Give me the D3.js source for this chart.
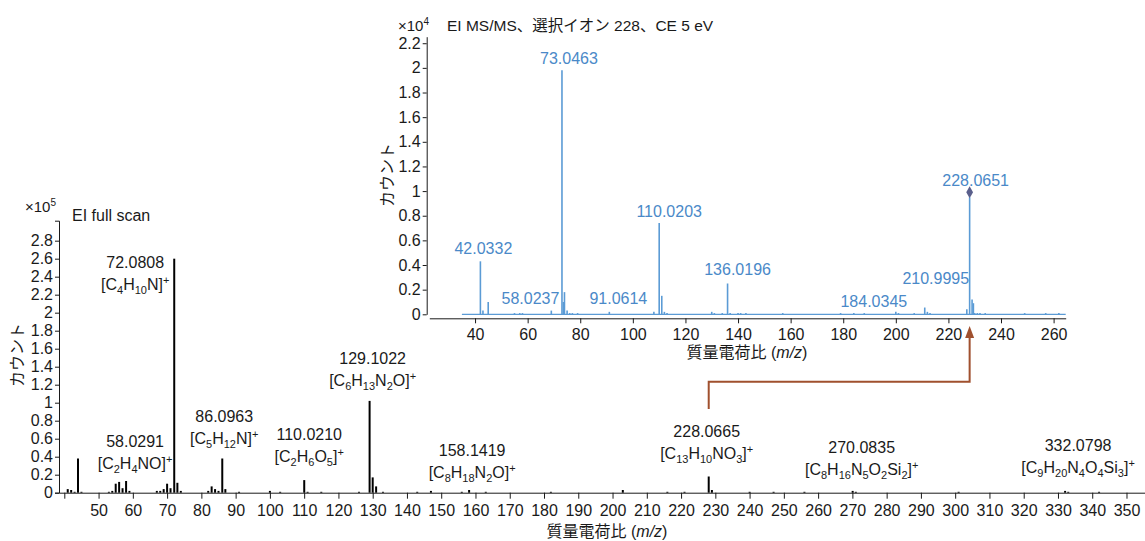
<!DOCTYPE html>
<html>
<head>
<meta charset="utf-8">
<script src="https://cdn.jsdelivr.net/npm/d3@7"></script>
<style>
  body { margin: 0; background: #fff; }
  svg text { font-family: "Liberation Sans", "Noto Sans CJK JP", sans-serif; fill: #1a1a1a; }
</style>
</head>
<body>
<div id="chart"></div>
<script>
// EI full scan (x10^5 counts)
const mainMz  = [41, 42, 43, 44, 45, 53, 54, 55, 56, 57, 58.03, 59, 67, 68, 69, 70, 71, 72.08, 73, 74,
                 82, 83, 84, 85, 86.1, 87, 91, 100, 103, 110.02, 111, 115, 126, 129.1, 130, 131, 133,
                 143, 147, 156, 158.14, 163, 182, 203, 216, 221, 228.07, 229, 240, 247, 256, 270.08, 271,
                 301, 332.08, 333, 342];
const mainInt = [0.04, 0.03, 0.01, 0.38, 0.01, 0.01, 0.02, 0.10, 0.12, 0.05, 0.13, 0.02, 0.02, 0.02, 0.04, 0.10, 0.05, 2.60, 0.11, 0.02,
                 0.02, 0.07, 0.04, 0.02, 0.38, 0.04, 0.01, 0.02, 0.01, 0.14, 0.01, 0.01, 0.01, 1.02, 0.17, 0.07, 0.01,
                 0.01, 0.02, 0.01, 0.03, 0.01, 0.01, 0.03, 0.01, 0.01, 0.18, 0.03, 0.01, 0.01, 0.01, 0.02, 0.01,
                 0.01, 0.02, 0.01, 0.01];
const mainLabelMz   = [72.0808, 58.0291, 86.0963, 110.0210, 129.1022, 158.1419, 228.0665, 270.0835, 332.0798];
const mainLabelText = ["72.0808", "58.0291", "86.0963", "110.0210", "129.1022", "158.1419", "228.0665", "270.0835", "332.0798"];
const mainFormula   = ["[C_4H_10N]^+", "[C_2H_4NO]^+", "[C_5H_12N]^+", "[C_2H_6O_5]^+", "[C_6H_13N_2O]^+",
                       "[C_8H_18N_2O]^+", "[C_13H_10NO_3]^+", "[C_8H_16N_5O_2Si_2]^+", "[C_9H_20N_4O_4Si_3]^+"];
const mainXTicks = d3.range(40, 351, 10);
const mainYTicks = d3.range(0, 2.81, 0.2);

// EI MS/MS, precursor 228 (x10^4 counts)
const insMz  = [42.03, 43, 45, 55, 57, 58.02, 69, 73.05, 73.6, 74, 75, 76, 77, 79, 91.06, 108, 110.02, 111, 112, 113,
                130, 131, 134, 136.02, 137, 140, 141, 143, 157, 179, 184.03, 188, 200, 201, 207, 211, 212, 213,
                227, 228.07, 229, 229.5, 230, 231, 232, 234, 249, 257, 262];
const insInt = [0.43, 0.03, 0.10, 0.01, 0.01, 0.01, 0.03, 1.98, 0.10, 0.18, 0.03, 0.01, 0.01, 0.01, 0.02, 0.02, 0.74, 0.15, 0.02, 0.01,
                0.02, 0.01, 0.01, 0.25, 0.01, 0.01, 0.01, 0.01, 0.01, 0.01, 0.01, 0.01, 0.02, 0.01, 0.01, 0.055, 0.02, 0.01,
                0.04, 0.95, 0.12, 0.09, 0.01, 0.01, 0.01, 0.01, 0.01, 0.01, 0.01];
const insLabelMz   = [73.0463, 42.0332, 58.0237, 91.0614, 110.0203, 136.0196, 184.0345, 210.9995, 228.0651];
const insLabelText = ["73.0463", "42.0332", "58.0237", "91.0614", "110.0203", "136.0196", "184.0345", "210.9995", "228.0651"];
const insXTicks = d3.range(40, 261, 20);
const insYTicks = d3.range(0, 2.21, 0.2);
const precursorMz = 228.07;

// annotation placement (pixels): horizontal nudge from peak, vertical centre of first line
const mainLabelPos = [[-39, 262], [9, 441], [2, 416], [5, 434], [3, 358], [3, 450], [-2, 431], [9, 447], [13, 445]];
const insLabelPos  = [[7, 58], [3, 248], [8, 298], [9, 298], [10, 211], [10, 269], [20, 301], [11, 278], [6, 180]];

const W = 1145, H = 541;
const FS = "16px";
const svg = d3.select("#chart").append("svg").attr("width", W).attr("height", H);

const fmt = d => String(+d.toFixed(1));

function richText(sel, str) {
  const parts = str.match(/_\d+|\^\+|[^_^]+/g);
  let shift = 0;
  parts.forEach(p => {
    let t = p, target = 0, size = null;
    if (p[0] === "_") { t = p.slice(1); target = 4; size = "11px"; }
    else if (p[0] === "^") { t = p.slice(1); target = -6; size = "11px"; }
    sel.append("tspan").attr("dy", target - shift).attr("font-size", size).text(t);
    shift = target;
  });
}

// ---------------- main chart ----------------
const xMain = d3.scaleLinear().domain([38.45, 355.4]).range([59, 1145]);
const yMain = d3.scaleLinear().domain([0, 3.022]).range([492.7, 220.7]);

const gm = svg.append("g");

gm.append("g")
  .attr("transform", `translate(0,${yMain(0)})`)
  .call(d3.axisBottom(xMain).tickValues(mainXTicks).tickSize(6).tickSizeOuter(0)
        .tickFormat(d => d < 50 ? "" : d))
  .call(g => g.selectAll(".tick text").attr("font-size", FS).attr("dy", "0.9em"));

gm.append("g")
  .attr("transform", `translate(${xMain.range()[0]},0)`)
  .call(d3.axisLeft(yMain).tickValues(mainYTicks).tickSize(4).tickSizeOuter(4).tickFormat(fmt))
  .call(g => g.selectAll(".tick text").attr("font-size", FS).attr("x", -6));

svg.selectAll(".domain, .tick line").attr("stroke", "#1a1a1a");
svg.selectAll(".tick text").attr("fill", "#1a1a1a");

gm.selectAll("line.peak")
  .data(mainMz)
  .enter()
  .append("line")
  .attr("class", "peak")
  .attr("x1", d => xMain(d))
  .attr("x2", d => xMain(d))
  .attr("y1", yMain(0))
  .attr("y2", (d, i) => yMain(mainInt[i]))
  .attr("stroke", "#000")
  .attr("stroke-width", 2);

mainLabelMz.forEach((mz, i) => {
  const cx = xMain(mz) + mainLabelPos[i][0];
  const cy = mainLabelPos[i][1];
  gm.append("text").attr("x", cx).attr("y", cy + 6).attr("text-anchor", "middle")
    .attr("font-size", FS).text(mainLabelText[i]);
  const f = gm.append("text").attr("x", cx).attr("y", cy + 28).attr("text-anchor", "middle")
    .attr("font-size", FS);
  richText(f, mainFormula[i]);
});

const tm = gm.append("text").attr("x", 25).attr("y", 212).attr("font-size", "15px").text("×10");
tm.append("tspan").attr("dy", -6).attr("font-size", "10px").text("5");
gm.append("text").attr("x", 72).attr("y", 221).attr("font-size", FS).text("EI full scan");

gm.append("text")
  .attr("transform", "translate(23,355) rotate(-90)")
  .attr("text-anchor", "middle").attr("font-size", FS).text("カウント");

const xl = gm.append("text").attr("x", 607).attr("y", 537).attr("text-anchor", "middle").attr("font-size", FS);
xl.append("tspan").text("質量電荷比 (");
xl.append("tspan").attr("font-style", "italic").text("m/z");
xl.append("tspan").text(")");

// ---------------- inset chart ----------------
const xIns = d3.scaleLinear().domain([22.6, 264.6]).range([429.3, 1065.7]);
const yIns = d3.scaleLinear().domain([0, 2.253]).range([314.3, 36.7]);
const blue = "#5b9bd5", blueText = "#4a89c8";

const gi = svg.append("g");

gi.append("g")
  .attr("transform", "translate(0,318.3)")
  .call(d3.axisBottom(xIns).tickValues(insXTicks).tickSize(5).tickSizeOuter(0))
  .call(g => g.selectAll(".tick text").attr("font-size", FS).attr("dy", "0.85em"));

gi.append("g")
  .attr("transform", "translate(426.7,0)")
  .call(d3.axisLeft(yIns).tickValues(insYTicks).tickSize(4).tickSizeOuter(0).tickFormat(fmt))
  .call(g => g.selectAll(".tick text").attr("font-size", FS).attr("x", -6));

gi.selectAll(".domain, .tick line").attr("stroke", "#1a1a1a");
gi.selectAll(".tick text").attr("fill", "#1a1a1a");

gi.append("line")
  .attr("x1", xIns(35)).attr("x2", xIns(264.6))
  .attr("y1", yIns(0)).attr("y2", yIns(0))
  .attr("stroke", blue).attr("stroke-width", 1.2);

gi.selectAll("line.peak")
  .data(insMz)
  .enter()
  .append("line")
  .attr("class", "peak")
  .attr("x1", d => xIns(d))
  .attr("x2", d => xIns(d))
  .attr("y1", yIns(0))
  .attr("y2", (d, i) => yIns(insInt[i]))
  .attr("stroke", blue)
  .attr("stroke-width", 1.6);

const precIdx = insMz.indexOf(precursorMz);
gi.append("path")
  .attr("d", d3.symbol(d3.symbolDiamond, 40)())
  .attr("transform", `translate(${xIns(precursorMz)},${yIns(insInt[precIdx]) - 5})`)
  .attr("fill", "#5a5f8c");

insLabelMz.forEach((mz, i) => {
  gi.append("text")
    .attr("x", xIns(mz) + insLabelPos[i][0])
    .attr("y", insLabelPos[i][1] + 6)
    .attr("text-anchor", "middle")
    .attr("font-size", FS)
    .style("fill", blueText)
    .text(insLabelText[i]);
});

const ti = gi.append("text").attr("x", 398).attr("y", 31).attr("font-size", "15px").text("×10");
ti.append("tspan").attr("dy", -6).attr("font-size", "10px").text("4");
gi.append("text").attr("x", 447).attr("y", 31).attr("font-size", "15.5px").text("EI MS/MS、選択イオン 228、CE 5 eV");

gi.append("text")
  .attr("transform", "translate(393,175) rotate(-90)")
  .attr("text-anchor", "middle").attr("font-size", FS).text("カウント");

const xl2 = gi.append("text").attr("x", 747).attr("y", 358).attr("text-anchor", "middle").attr("font-size", FS);
xl2.append("tspan").text("質量電荷比 (");
xl2.append("tspan").attr("font-style", "italic").text("m/z");
xl2.append("tspan").text(")");

// ---------------- link arrow ----------------
const brown = "#a0502e";
const ax0 = xMain(precursorMz), ax1 = xIns(precursorMz);
svg.append("path")
  .attr("d", `M${ax0},409 V381.7 H${ax1} V336`)
  .attr("fill", "none").attr("stroke", brown).attr("stroke-width", 2);
svg.append("path")
  .attr("d", `M${ax1},326 L${ax1 - 4.5},338 L${ax1 + 4.5},338 Z`)
  .attr("fill", brown);
</script>
</body>
</html>
